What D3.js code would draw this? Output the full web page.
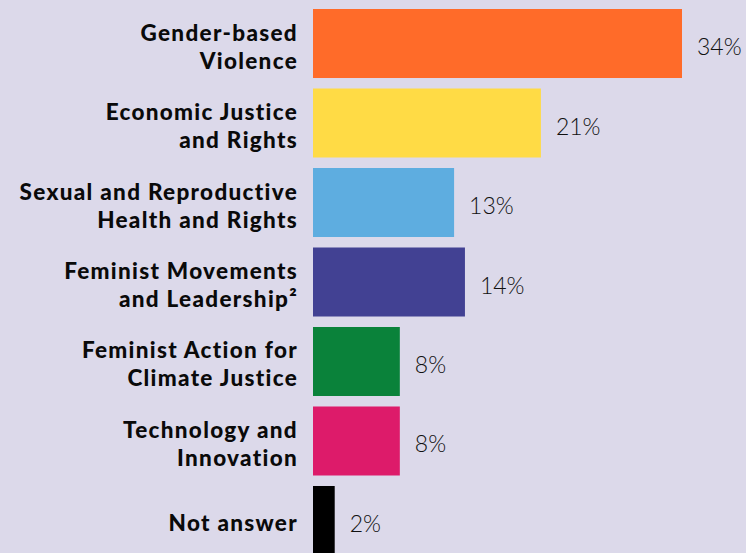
<!DOCTYPE html>
<html><head><meta charset="utf-8">
<script src="https://cdn.jsdelivr.net/npm/d3@7/dist/d3.min.js"></script>
<style>
html,body{margin:0;padding:0;background:#dcd9ea;}
svg{display:block;}
</style></head>
<body>
<svg id="chart" width="746" height="553"></svg>
<script>
const categories = [
  ["Gender-based", "Violence"],
  ["Economic Justice", "and Rights"],
  ["Sexual and Reproductive", "Health and Rights"],
  ["Feminist Movements", "and Leadership²"],
  ["Feminist Action for", "Climate Justice"],
  ["Technology and", "Innovation"],
  ["Not answer"]
];
const values = [34, 21, 13, 14, 8, 8, 2];
const colors = ["#ff6b29", "#ffdb45", "#5eade0", "#424193", "#0a823a", "#dd1b6a", "#000000"];

const svg = d3.select("#chart");
const W = 746, H = 553;
svg.append("rect").attr("width", W).attr("height", H).attr("fill", "#dcd9ea");

const x = d3.scaleLinear().domain([0, 34]).range([313, 682]);
const y = d3.scaleBand().domain(d3.range(values.length)).range([9, 555]).paddingInner(0.132).paddingOuter(0);

const g = svg.append("g");
g.selectAll("rect.bar").data(values).join("rect")
  .attr("class", "bar")
  .attr("x", x(0))
  .attr("y", (d, i) => y(i))
  .attr("width", d => x(d) - x(0))
  .attr("height", y.bandwidth())
  .attr("fill", (d, i) => colors[i]);

g.selectAll("text.val").data(values).join("text")
  .attr("class", "val")
  .attr("x", d => x(d) + 15)
  .attr("y", (d, i) => y(i) + y.bandwidth() / 2 + 11.5)
  .attr("font-family", "Lato, 'Open Sans', sans-serif")
  .attr("font-weight", 300)
  .attr("font-size", 23)
  .attr("fill", "#111")
  .text(d => d + "%");

const lineH = 28;
const lab = g.selectAll("text.lab").data(categories).join("text")
  .attr("class", "lab")
  .attr("text-anchor", "end")
  .attr("font-family", "Lato, 'Open Sans', sans-serif")
  .attr("font-weight", 900)
  .attr("font-size", 22.5)
  .attr("letter-spacing", 1.3)
  .attr("fill", "#0a0a0a");
lab.each(function(lines, i) {
  const t = d3.select(this);
  const cy = y(i) + y.bandwidth() / 2;
  const n = lines.length;
  lines.forEach((ln, k) => {
    t.append("tspan")
      .attr("x", 298)
      .attr("y", cy + (k - (n - 1) / 2) * lineH + 11)
      .text(ln);
  });
});
</script>
</body></html>
